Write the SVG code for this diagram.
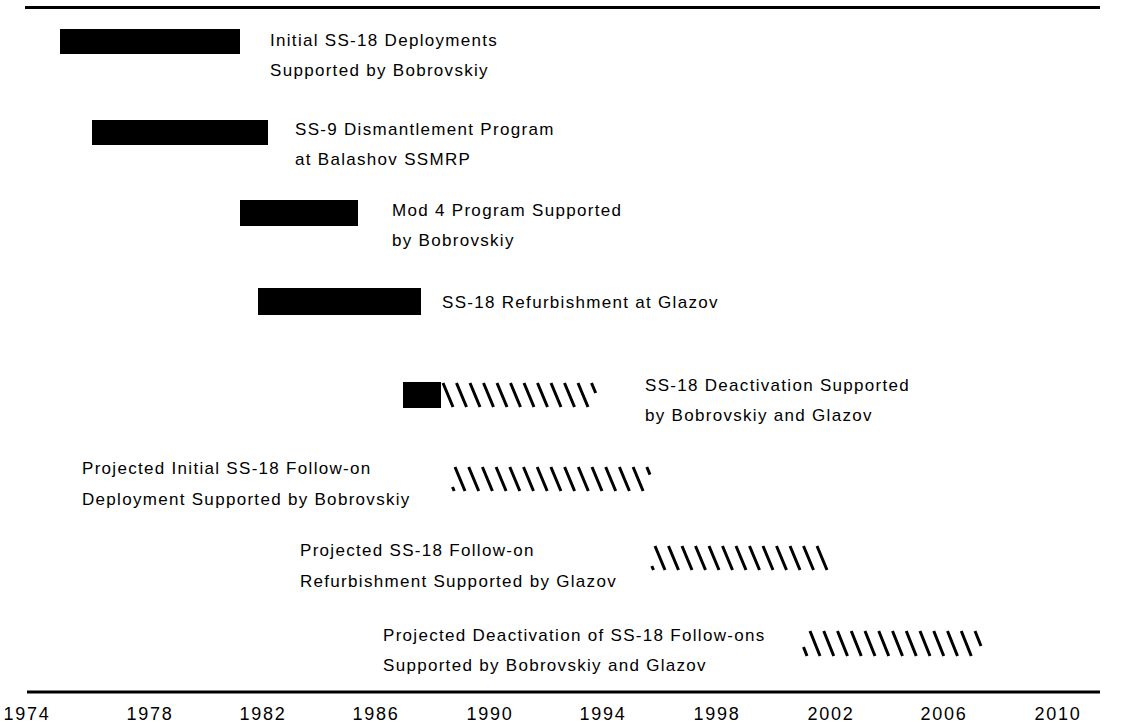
<svg xmlns="http://www.w3.org/2000/svg" width="1127" height="723" viewBox="0 0 1127 723">
<style>
.t{font-family:"Liberation Sans",Arial,Helvetica,sans-serif;font-size:17px;letter-spacing:1.3px;fill:#000}
.ax{font-family:"Liberation Sans",Arial,Helvetica,sans-serif;font-size:18px;letter-spacing:1.8px;fill:#000;text-anchor:middle}
.bar{fill:#000}
.h{stroke:#000;stroke-width:3;fill:none}
.rule{stroke:#000;stroke-width:3}
</style>
<rect width="1127" height="723" fill="#fff"/>
<g id="axis">
<line class="rule" x1="25" y1="7.5" x2="1100" y2="7.5"/>
<line class="rule" x1="27" y1="692" x2="1100" y2="692"/>
<text class="ax" x="27" y="720">1974</text>
<text class="ax" x="150" y="720">1978</text>
<text class="ax" x="263" y="720">1982</text>
<text class="ax" x="376" y="720">1986</text>
<text class="ax" x="490" y="720">1990</text>
<text class="ax" x="603" y="720">1994</text>
<text class="ax" x="717" y="720">1998</text>
<text class="ax" x="831" y="720">2002</text>
<text class="ax" x="944" y="720">2006</text>
<text class="ax" x="1058" y="720">2010</text>
</g>
<g id="item1">
<rect class="bar" x="60" y="29" width="180" height="25"/>
<text class="t" x="270" y="46">Initial SS-18 Deployments</text>
<text class="t" x="270" y="76">Supported by Bobrovskiy</text>
</g>
<g id="item2">
<rect class="bar" x="92" y="120" width="176" height="25"/>
<text class="t" x="295" y="135">SS-9 Dismantlement Program</text>
<text class="t" x="295" y="165">at Balashov SSMRP</text>
</g>
<g id="item3">
<rect class="bar" x="240" y="200" width="118" height="26"/>
<text class="t" x="392" y="216">Mod 4 Program Supported</text>
<text class="t" x="392" y="246">by Bobrovskiy</text>
</g>
<g id="item4">
<rect class="bar" x="258" y="288" width="163" height="27"/>
<text class="t" x="442" y="308">SS-18 Refurbishment at Glazov</text>
</g>
<g id="item5">
<rect class="bar" x="403" y="382" width="38" height="26"/>
<path class="h" d="M443,383L453,407M456.5,383L466.5,407M470,383L480,407M483.5,383L493.5,407M497,383L507,407M510.5,383L520.5,407M524,383L534,407M537.5,383L547.5,407M551,383L561,407M564.5,383L574.5,407M578,383L588,407M591.5,383L595.7,393"/>
<text class="t" x="645" y="391">SS-18 Deactivation Supported</text>
<text class="t" x="645" y="421">by Bobrovskiy and Glazov</text>
</g>
<g id="item6">
<path class="h" d="M455,467L465,491M468.7,467L478.7,491M482.4,467L492.4,491M496.1,467L506.1,491M509.8,467L519.8,491M523.5,467L533.5,491M537.2,467L547.2,491M550.9,467L560.9,491M564.6,467L574.6,491M578.3,467L588.3,491M592,467L602,491M605.7,467L615.7,491M619.4,467L629.4,491M633.1,467L643.1,491M646.8,467L650,474.7M452.5,487L454.2,491"/>
<text class="t" x="82" y="474">Projected Initial SS-18 Follow-on</text>
<text class="t" x="82" y="505">Deployment Supported by Bobrovskiy</text>
</g>
<g id="item7">
<path class="h" d="M655,546L665,570M668.5,546L678.5,570M682,546L692,570M695.5,546L705.5,570M709,546L719,570M722.5,546L732.5,570M736,546L746,570M749.5,546L759.5,570M763,546L773,570M776.5,546L786.5,570M790,546L800,570M803.5,546L813.5,570M817,546L827,570M651.8,566L653.5,570"/>
<text class="t" x="300" y="556">Projected SS-18 Follow-on</text>
<text class="t" x="300" y="587">Refurbishment Supported by Glazov</text>
</g>
<g id="item8">
<path class="h" d="M810,631L820,656M823.75,631L833.75,656M837.5,631L847.5,656M851.25,631L861.25,656M865,631L875,656M878.75,631L888.75,656M892.5,631L902.5,656M906.25,631L916.25,656M920,631L930,656M933.75,631L943.75,656M947.5,631L957.5,656M961.25,631L971.25,656M975,631L981,646M803.5,647L807,656"/>
<text class="t" x="383" y="641">Projected Deactivation of SS-18 Follow-ons</text>
<text class="t" x="383" y="671">Supported by Bobrovskiy and Glazov</text>
</g>
</svg>
